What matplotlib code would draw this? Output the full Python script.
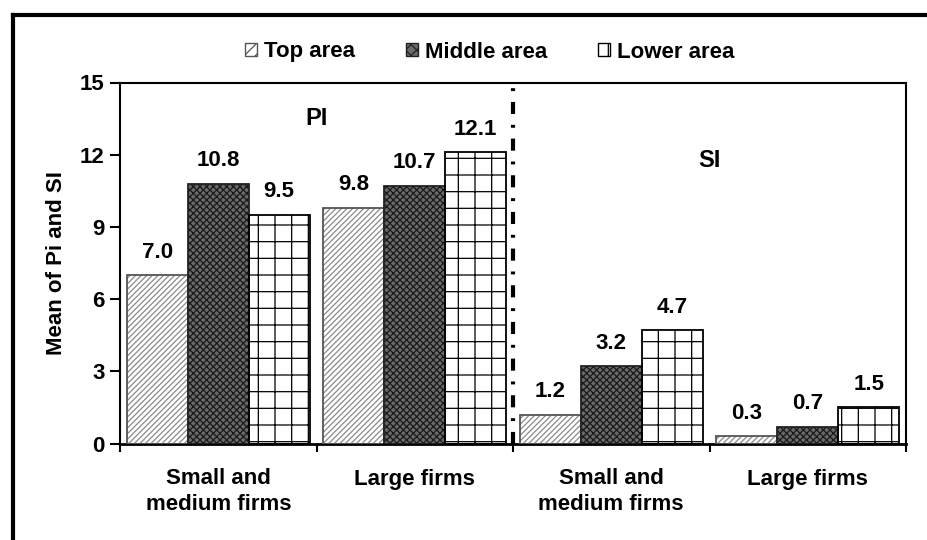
import matplotlib
matplotlib.use("Agg")
import matplotlib.pyplot as plt
from matplotlib.patches import Patch
from matplotlib.lines import Line2D
import numpy as np

categories = ["Small and\nmedium firms", "Large firms", "Small and\nmedium firms", "Large firms"]
series_names = ["Top area", "Middle area", "Lower area"]
top_area = [7.0, 9.8, 1.2, 0.3]
middle_area = [10.8, 10.7, 3.2, 0.7]
lower_area = [9.5, 12.1, 4.7, 1.5]
yticks = [0, 3, 6, 9, 12, 15]

plt.rcParams['font.family'] = ['Liberation Sans', 'DejaVu Sans']
plt.rcParams['font.weight'] = 'bold'
plt.rcParams['hatch.linewidth'] = 0.9

FS = 16
fig = plt.figure(figsize=(9.27, 5.4), dpi=100)
ax = fig.add_axes([120/927, 1-443.5/540, (906-120)/927, (443.5-82.5)/540])

x = np.arange(len(categories))
w = 0.31
styles = [
    dict(face='white', hcol='#8a8a8a', hatch='//////', edge='#555555'),
    dict(face='#6a6a6a', hcol='#1a1a1a', hatch='xxxxx', edge='#222222'),
    dict(face='white', hcol='#000000', hatch='+', edge='#000000'),
]
data = [top_area, middle_area, lower_area]
for i, (vals, st) in enumerate(zip(data, styles)):
    pos = x + (i - 1) * w
    ax.bar(pos, vals, w, color=st['face'], edgecolor='none', linewidth=0, zorder=2)
    ax.bar(pos, vals, w, fill=False, edgecolor=st['hcol'], hatch=st['hatch'], linewidth=0, zorder=3)
    ax.bar(pos, vals, w, fill=False, edgecolor=st['edge'], linewidth=1.3, zorder=4)
    for p, v in zip(pos, vals):
        ax.annotate(f"{v:.1f}", (p, v), xytext=(0, 9), textcoords='offset points',
                    ha='center', va='bottom', fontsize=FS, fontweight='bold')

ax.set_xlim(-0.5, 3.5)
ax.set_ylim(0, 15)
ax.set_yticks(yticks)
ax.set_yticklabels([str(t) for t in yticks], fontsize=FS, fontweight='bold')
ax.set_xticks(x)
ax.set_xticklabels(categories, fontsize=FS, fontweight='bold', linespacing=1.3)
ax.tick_params(axis='x', which='major', length=0, pad=18)
ax.set_xticks(np.arange(-0.5, 4.0, 1.0), minor=True)
ax.tick_params(axis='x', which='minor', length=6, width=1.5, direction='out')
ax.tick_params(axis='y', length=7, width=1.5, direction='out', pad=4)
for s in ax.spines.values():
    s.set_linewidth(1.5)
    s.set_color('black')
ax.spines['bottom'].set_linewidth(2.0)
ax.set_ylabel("Mean of Pi and SI", fontsize=FS, fontweight='bold', labelpad=9)

ax.axvline(1.5, color='black', linewidth=3, linestyle=(0, (2.9, 2.6, 0.7, 2.6)), zorder=5)

ax.text(0.5, 13.5, "PI", ha='center', va='center', fontsize=FS+1, fontweight='bold')
ax.text(2.5, 11.75, "SI", ha='center', va='center', fontsize=FS+1, fontweight='bold')

handles = [Patch(facecolor=st['face'], edgecolor=st['edge'], hatch=st['hatch'][:3], linewidth=1.0)
           for st in styles]
fig.legend(handles, series_names, loc='center', bbox_to_anchor=(0.528, 1-52/540), ncol=3,
           frameon=False, prop={'weight': 'bold', 'size': FS},
           handlelength=0.55, handleheight=0.55, handletextpad=0.3, columnspacing=2.3)

fig.add_artist(Line2D([13/927, 13/927], [0, 1-15/540], color='black', linewidth=3,
                      transform=fig.transFigure, solid_capstyle='projecting'))
fig.add_artist(Line2D([13/927, 1], [1-15/540, 1-15/540], color='black', linewidth=3,
                      transform=fig.transFigure, solid_capstyle='projecting'))

fig.savefig("out.png", dpi=100)
